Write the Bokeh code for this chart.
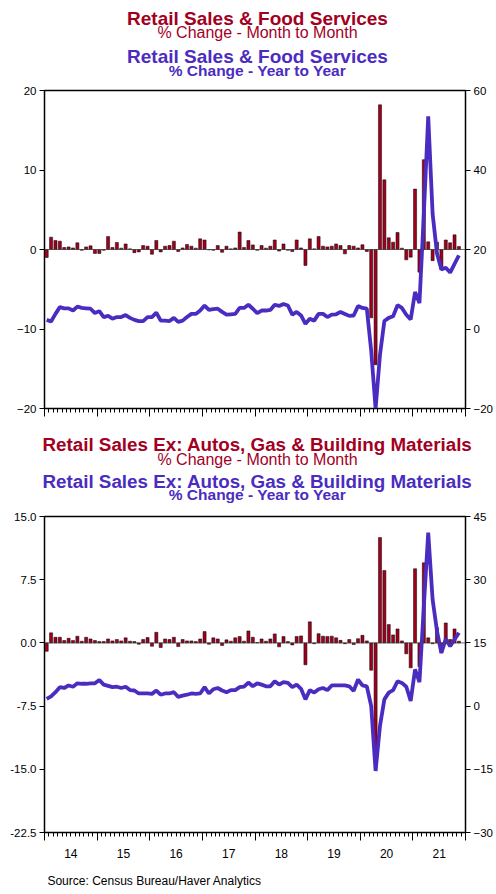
from bokeh.plotting import figure
from bokeh.models import Range1d, LinearAxis, FixedTicker, Span, NumeralTickFormatter
from bokeh.layouts import column
from bokeh.embed import file_html
from bokeh.resources import INLINE
from bokeh.core.properties import value

# ---------------- data ----------------
start_year = 2014
n_months = 95  # Jan 2014 .. Nov 2021
year_labels = ["14", "15", "16", "17", "18", "19", "20", "21"]

# Retail Sales & Food Services
top_mom = [-1.0, 1.55, 1.13, 1.05, 0.25, 0.33, 0.2, 0.84, -0.1, 0.33,
           0.46, -0.5, -0.5, -0.1, 1.63, 0.25, 0.88, 0.17, 0.7, 0.08,
           -0.4, -0.3, 0.5, 0.42, -0.6, 1.13, -0.3, 0.42, 0.5, 1.05,
           -0.25, 0.2, 0.63, 0.42, 0.17, 1.34, 1.2, -0.05, -0.1, 0.5,
           -0.35, 0.42, 0.08, 0.2, 2.2, 0.25, 1.13, 0.58, -0.1, 0.5,
           0.17, 0.42, 1.2, -0.2, 0.7, -0.1, -0.25, 1.2, 0.2, -2.0,
           1.34, 0.08, 1.63, 0.42, 0.33, 0.42, 0.7, 0.5, -0.55, 0.5,
           0.42, 0.2, 0.6, -0.25, -8.6, -14.5, 18.2, 8.76, 1.47, 0.92,
           2.14, 0.17, -1.3, -0.96, 7.6, -2.85, 11.3, 0.96, -1.4, 0.92,
           -2.5, 1.2, 0.84, 1.84, 0.38]
top_yoy = [2.3, 1.9, 3.8, 5.5, 5.2, 5.2, 4.65, 5.65, 5.3, 5.2,
           5.1, 4.0, 4.5, 3.0, 3.3, 2.6, 3.0, 3.0, 3.5, 2.8,
           2.3, 2.0, 2.0, 3.0, 3.0, 4.1, 2.1, 2.1, 2.0, 2.8,
           1.8, 2.1, 3.0, 3.8, 3.8, 4.65, 5.9, 4.8, 5.0, 5.1,
           4.3, 3.6, 3.7, 3.8, 5.3, 5.3, 6.1, 5.1, 4.0, 4.65,
           4.65, 4.8, 6.1, 5.8, 6.3, 5.9, 3.6, 4.3, 3.4, 1.3,
           2.6, 2.1, 3.8, 3.8, 3.0, 3.6, 3.7, 4.3, 3.8, 3.3,
           3.4, 5.8, 5.3, 5.1, -5.5, -20.0, -6.5, 2.0, 2.8, 3.2,
           6.0, 5.3, 3.6, 2.4, 9.3, 6.5, 29.0, 53.5, 29.0, 19.0,
           15.0, 15.4, 14.2, 16.4, 18.5]

# Retail Sales Ex: Autos, Gas & Building Materials
bot_mom = [-1.0, 1.19, 0.67, 0.67, 0.28, 0.55, 0.28, 0.79, 0.2, 0.67,
           0.47, 0.28, 0.16, 0.16, 0.47, 0.24, 0.4, 0.24, 0.6, 0.2,
           0.16, -0.16, 0.4, 0.63, -0.4, 1.26, -0.55, 0.47, 0.4, 0.67,
           -0.43, 0.4, 0.24, 0.24, 0.16, 0.47, 1.34, -0.16, 0.6, 0.47,
           -0.3, 0.36, 0.2, 0.6, 0.75, 0.2, 1.42, 0.67, 0.05, 0.47,
           0.2, 0.47, 1.07, -0.47, 0.75, 0.16, -0.24, 0.75, 0.83, -2.6,
           2.5, -0.1, 1.1, 0.8, 0.75, 0.8, 0.6, 0.3, -0.1, 0.4,
           -0.2, 0.5, 0.9, 0.24, -3.24, -13.4, 12.5, 8.6, 2.17, 0.95,
           1.66, 0.24, -1.3, -2.96, 8.8, -2.8, 9.5, 0.6, -0.1, 1.8,
           -1.1, 2.37, 0.4, 1.66, 0.2]
bot_yoy = [1.7, 2.3, 3.3, 4.5, 4.3, 4.9, 4.6, 5.4, 5.3, 5.3,
           5.4, 5.4, 6.2, 5.1, 4.8, 4.5, 4.6, 4.3, 4.6, 3.8,
           3.7, 3.0, 3.0, 3.0, 2.9, 3.7, 2.7, 3.0, 3.0, 3.3,
           2.2, 2.5, 2.7, 3.0, 2.9, 3.0, 4.5, 3.0, 4.0, 4.3,
           3.7, 3.3, 3.8, 3.8, 4.5, 4.6, 5.6, 4.7, 5.4, 5.1,
           4.7, 4.7, 5.9, 5.1, 5.7, 5.5, 4.5, 5.1, 4.1, 1.6,
           3.8, 3.2, 4.0, 4.3, 3.8, 4.9, 4.9, 4.9, 4.9, 4.7,
           3.6, 6.3, 4.9, 4.7, 0.0, -15.4, -4.7, 1.6, 3.2, 3.8,
           5.9, 5.5, 4.6, 1.2, 8.7, 5.7, 23.7, 41.2, 25.3, 17.8,
           12.6, 15.9, 14.2, 15.8, 17.4]

top_left_ticks = [-20, -10, 0, 10, 20]
top_right_ticks = [-20, 0, 20, 40, 60]
bot_left_ticks = [-22.5, -15.0, -7.5, 0.0, 7.5, 15.0]
bot_right_ticks = [-30, -15, 0, 15, 30, 45]

# --------------- styling ---------------
RED = "#A3001F"
BAR = "#A0001E"
BLUE = "#4B2CC0"
FONT = "Liberation Sans"
W = 496
CX = 257

months = [start_year + (i + 0.5) / 12 for i in range(n_months)]
year_pos = [start_year + k + 0.5 for k in range(len(year_labels))]
x_rng = (start_year, start_year + len(year_labels))


def title_fig(height, rows):
    p = figure(width=W, height=height, x_range=Range1d(0, W), y_range=Range1d(height, 0),
               output_backend="svg", toolbar_location=None, min_border=0, title=None,
               x_axis_location=None, y_axis_location=None, frame_align=False)
    p.grid.visible = False
    p.outline_line_color = None
    for txt, y, color, size, style in rows:
        p.text(x=[CX], y=[y], text=[txt], text_color=color, text_font=value(FONT),
               text_font_size=size, text_font_style=style, text_align="center",
               text_baseline="alphabetic")
    return p


def chart(mom, yoy, lrng, rrng, lticks, rticks, height, bottom, x_range, fmt=None):
    p = figure(width=W, height=height, x_range=x_range, y_range=Range1d(*lrng),
               output_backend="svg", toolbar_location=None, title=None,
               min_border_left=44, min_border_right=26, min_border_top=8,
               min_border_bottom=bottom)
    p.extra_y_ranges = {"yoy": Range1d(*rrng)}
    p.grid.visible = False
    p.outline_line_color = "black"
    p.outline_line_width = 1.5
    p.background_fill_color = "white"
    p.border_fill_color = "white"

    ya = p.yaxis[0]
    ya.ticker = FixedTicker(ticks=lticks)
    if fmt:
        ya.formatter = NumeralTickFormatter(format=fmt)
    ra = LinearAxis(y_range_name="yoy", ticker=FixedTicker(ticks=rticks))
    p.add_layout(ra, "right")
    for ax in (ya, ra):
        ax.minor_tick_line_color = None
        ax.major_tick_out = 5
        ax.major_tick_in = 0
        ax.major_label_standoff = 3
        ax.major_label_text_font = FONT
        ax.major_label_text_font_size = "11.5px"
        ax.major_label_text_color = "black"
        ax.axis_line_color = "black"
        ax.major_tick_line_color = "black"

    xa = p.xaxis[0]
    xa.ticker = FixedTicker(ticks=[x_rng[0] + k for k in range(len(year_labels) + 1)],
                            minor_ticks=[x_rng[0] + m / 12 for m in range(12 * len(year_labels) + 1)])
    xa.major_tick_out = 8
    xa.major_tick_in = 0
    xa.minor_tick_out = 4
    xa.minor_tick_in = 0
    xa.major_label_text_font_size = "1px"
    xa.major_label_text_alpha = 0
    xa.major_label_standoff = 0
    xa.axis_line_color = "black"
    xa.major_tick_line_color = "black"
    xa.minor_tick_line_color = "black"

    p.vbar(x=months, top=mom, bottom=0, width=0.7 / 12, fill_color=BAR,
           line_color="black", line_width=0.5)
    p.add_layout(Span(location=0, dimension="width", line_color="#444444", line_width=0.8))
    p.line(months, yoy, y_range_name="yoy", line_color=BLUE, line_width=3.8)
    return p


shared_x = Range1d(*x_rng)

t1 = title_fig(82, [
    ("Retail Sales & Food Services", 18, RED, "19px", "bold"),
    ("% Change - Month to Month", 32.3, RED, "16px", "normal"),
    ("Retail Sales & Food Services", 55.5, BLUE, "19px", "bold"),
    ("% Change - Year to Year", 70, BLUE, "15.5px", "bold"),
])
c1 = chart(top_mom, top_yoy, (-20, 20), (-20, 60), top_left_ticks, top_right_ticks,
           342, 16, Range1d(*x_rng))
t2 = title_fig(84, [
    ("Retail Sales Ex: Autos, Gas & Building Materials", 20, RED, "18.8px", "bold"),
    ("% Change - Month to Month", 35.3, RED, "16px", "normal"),
    ("Retail Sales Ex: Autos, Gas & Building Materials", 56.7, BLUE, "18.8px", "bold"),
    ("% Change - Year to Year", 70.3, BLUE, "15.5px", "bold"),
])
c2 = chart(bot_mom, bot_yoy, (-22.5, 15), (-30, 45), bot_left_ticks, bot_right_ticks,
           336, 12, shared_x, fmt="0.0")

xl = figure(width=W, height=46, x_range=shared_x, y_range=Range1d(46, 0),
            output_backend="svg", toolbar_location=None, min_border_left=44,
            min_border_right=26, min_border_top=0, min_border_bottom=0, title=None,
            x_axis_location=None, y_axis_location=None)
xl.grid.visible = False
xl.outline_line_color = None
xl.text(x=year_pos, y=[9.1] * len(year_pos), text=year_labels, text_font=value(FONT),
        text_font_size="12px", text_color="black", text_align="center",
        text_baseline="alphabetic")
xl.text(x=[x_rng[0] + 0.056], y=[36.4], text=["Source:  Census Bureau/Haver Analytics"],
        text_font=value(FONT), text_font_size="12px", text_color="black",
        text_align="left", text_baseline="alphabetic")

layout = column(t1, c1, t2, c2, xl, spacing=0)
open("out.html", "w").write(file_html(layout, INLINE))
